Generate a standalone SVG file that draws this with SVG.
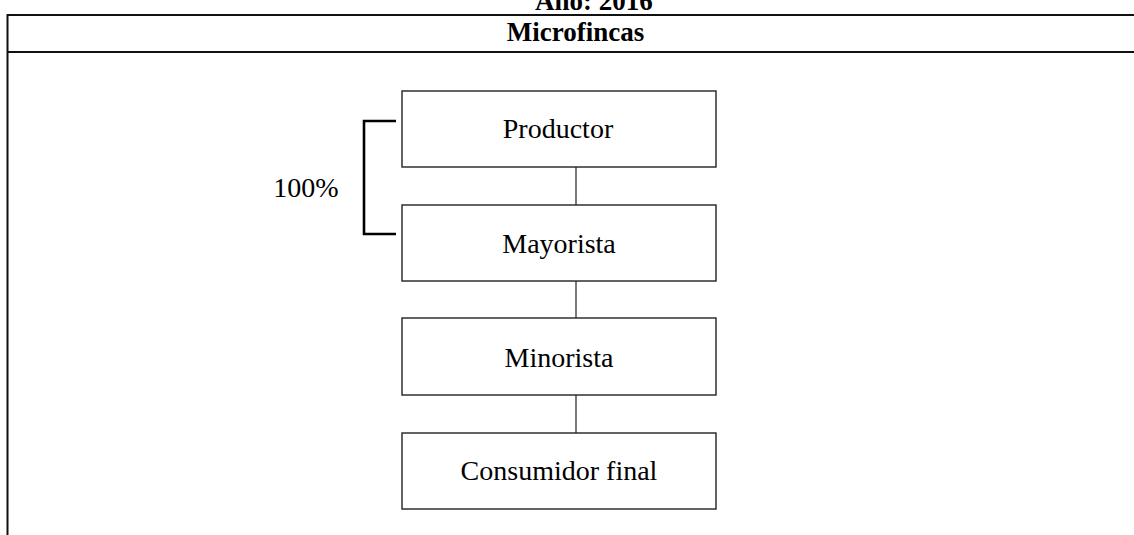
<svg xmlns="http://www.w3.org/2000/svg" width="1134" height="535" viewBox="0 0 1134 535">
<style>
.box{fill:#fff;stroke:#222;stroke-width:1.4}
.lbl{font-family:"Liberation Serif","Times New Roman",serif;font-size:28px;fill:#000;text-anchor:middle}
.hdr{font-family:"Liberation Serif","Times New Roman",serif;font-size:27px;font-weight:bold;fill:#000;text-anchor:middle}
.rule{stroke:#111;stroke-width:2;fill:none}
.conn{stroke:#222;stroke-width:1.2;fill:none}
</style>
<rect width="1134" height="535" fill="#fff"/>
<g id="frame">
<line class="rule" x1="7" y1="15" x2="1134" y2="15"/>
<line class="rule" x1="7" y1="52" x2="1134" y2="52"/>
<line class="rule" x1="7.5" y1="14" x2="7.5" y2="535" stroke-width="1.6"/>
<text class="hdr" x="594" y="10">Año: 2016</text>
<text class="hdr" x="575.5" y="41" font-size="28">Microfincas</text>
</g>
<g id="connectors">
<line class="conn" x1="576" y1="167" x2="576" y2="205"/>
<line class="conn" x1="576" y1="281" x2="576" y2="318"/>
<line class="conn" x1="576" y1="395" x2="576" y2="433"/>
</g>
<g id="bracket">
<path d="M396 121 H364 V234 H396" fill="none" stroke="#000" stroke-width="2.6"/>
<text class="lbl" x="306" y="197" font-size="27">100%</text>
</g>
<g id="productor">
<rect class="box" x="402" y="91" width="314" height="76"/>
<text class="lbl" x="558" y="138">Productor</text>
</g>
<g id="mayorista">
<rect class="box" x="402" y="205" width="314" height="76"/>
<text class="lbl" x="559" y="252.5">Mayorista</text>
</g>
<g id="minorista">
<rect class="box" x="402" y="318" width="314" height="77"/>
<text class="lbl" x="559" y="367">Minorista</text>
</g>
<g id="consumidor">
<rect class="box" x="402" y="433" width="314" height="76"/>
<text class="lbl" x="559" y="480">Consumidor final</text>
</g>
</svg>
